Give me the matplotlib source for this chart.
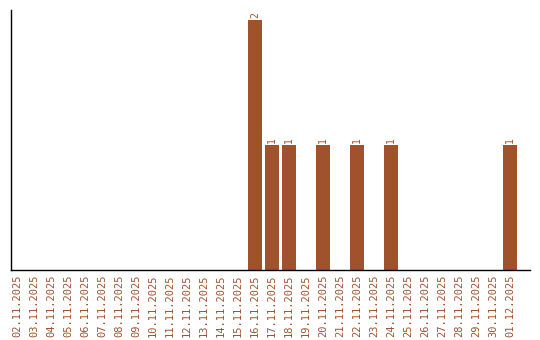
import matplotlib
matplotlib.use("Agg")
import matplotlib.pyplot as plt

dates = ["02.11.2025", "03.11.2025", "04.11.2025", "05.11.2025", "06.11.2025",
         "07.11.2025", "08.11.2025", "09.11.2025", "10.11.2025", "11.11.2025",
         "12.11.2025", "13.11.2025", "14.11.2025", "15.11.2025", "16.11.2025",
         "17.11.2025", "18.11.2025", "19.11.2025", "20.11.2025", "21.11.2025",
         "22.11.2025", "23.11.2025", "24.11.2025", "25.11.2025", "26.11.2025",
         "27.11.2025", "28.11.2025", "29.11.2025", "30.11.2025", "01.12.2025"]
counts = [0, 0, 0, 0, 0, 0, 0, 0, 0, 0, 0, 0, 0, 0, 2,
          1, 1, 0, 1, 0, 1, 0, 1, 0, 0, 0, 0, 0, 0, 1]

color = "#A0522D"
fig = plt.figure(figsize=(5.4, 3.4), dpi=100)
ax = fig.add_axes([11/540, 70/340, 519/540, 260/340])
x = list(range(len(dates)))
ax.bar(x, counts, width=0.82, color=color)
for xi, c in zip(x, counts):
    if c > 0:
        ax.text(xi, c + 0.02, str(c), rotation=90, ha="center", va="bottom",
                fontsize=7, family="DejaVu Sans Mono", color=color)
ax.set_xlim(-0.35, 30.18)
ax.set_ylim(0, 2.08)
ax.set_xticks(x)
ax.set_xticklabels(dates, rotation=90, fontsize=7.5, family="DejaVu Sans Mono", color=color)
ax.tick_params(axis="x", length=0, pad=3)
ax.set_yticks([])
ax.spines["top"].set_visible(False)
ax.spines["right"].set_visible(False)
ax.spines["left"].set_linewidth(1.0)
ax.spines["bottom"].set_linewidth(1.0)
fig.savefig("out.png", dpi=100)
